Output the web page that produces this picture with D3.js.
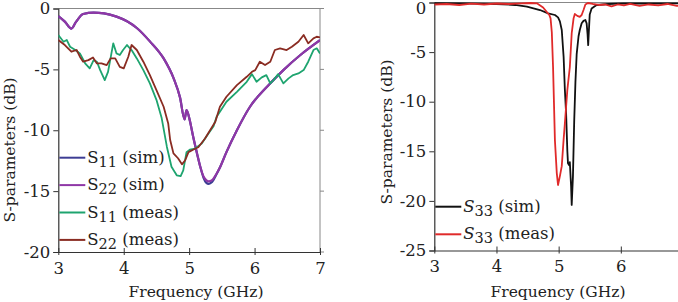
<!DOCTYPE html>
<html>
<head>
<meta charset="utf-8">
<script src="https://cdn.jsdelivr.net/npm/d3@7"></script>
<style>
  body { margin: 0; background: #fff; }
  svg { display: block; font-family: "DejaVu Serif", serif; }
</style>
</head>
<body>
<svg id="chart" width="678" height="302"></svg>
<script>
// ---- left panel data ----
const simFreq = [3.0, 3.1, 3.2, 3.27, 3.38, 3.54, 3.7, 3.89, 4.05, 4.2, 4.4, 4.61, 4.76, 4.86, 4.93, 4.96, 5.01, 5.06, 5.12, 5.17, 5.22, 5.26, 5.3, 5.35, 5.42, 5.47, 5.57, 5.73, 5.93, 6.19, 6.44, 6.7, 7.0];
const s11Sim = [-0.62, -1.08, -1.65, -1.1, -0.45, -0.34, -0.4, -0.67, -1.05, -1.6, -2.7, -4.1, -5.7, -7.3, -9.1, -8.35, -9.2, -10.5, -11.9, -13.0, -13.9, -14.3, -14.4, -14.25, -13.6, -13.06, -11.8, -10.0, -8.07, -6.43, -5.06, -3.82, -2.6];
const s22Sim = [-0.62, -1.08, -1.65, -1.1, -0.45, -0.34, -0.4, -0.67, -1.05, -1.6, -2.7, -4.1, -5.7, -7.3, -9.1, -8.35, -9.2, -10.5, -11.9, -13.0, -13.8, -14.1, -14.2, -14.1, -13.55, -13.06, -11.8, -10.0, -8.07, -6.43, -5.06, -3.82, -2.6];

const s11MeasFreq = [3.0, 3.08, 3.13, 3.18, 3.26, 3.33, 3.41, 3.48, 3.54, 3.59, 3.64, 3.71, 3.76, 3.84, 3.89, 3.94, 3.99, 4.05, 4.12, 4.2, 4.3, 4.4, 4.5, 4.58, 4.66, 4.73, 4.81, 4.87, 4.91, 4.96, 5.01, 5.09, 5.19, 5.29, 5.37, 5.42, 5.57, 5.73, 5.88, 5.96, 6.03, 6.11, 6.18, 6.24, 6.29, 6.36, 6.44, 6.52, 6.59, 6.67, 6.75, 6.82, 6.9, 6.95, 7.0];
const s11Meas = [-2.18, -2.73, -2.59, -3.14, -3.41, -3.69, -4.5, -4.92, -4.24, -4.37, -5.06, -5.88, -5.2, -2.86, -3.69, -3.82, -3.41, -3.0, -3.41, -4.1, -5.06, -6.15, -7.5, -9.0, -11.37, -13.0, -13.7, -13.77, -13.3, -11.8, -11.6, -11.5, -11.1, -10.3, -9.7, -8.9, -7.66, -6.84, -6.02, -5.39, -6.02, -5.66, -5.47, -6.15, -5.88, -5.39, -6.15, -5.74, -5.47, -5.33, -5.06, -4.37, -3.41, -3.27, -3.69];

const s22MeasFreq = [3.0, 3.1, 3.2, 3.28, 3.33, 3.38, 3.46, 3.53, 3.59, 3.66, 3.74, 3.8, 3.87, 3.94, 4.0, 4.07, 4.12, 4.2, 4.3, 4.4, 4.5, 4.61, 4.68, 4.71, 4.76, 4.83, 4.89, 4.94, 4.99, 5.06, 5.14, 5.24, 5.32, 5.4, 5.47, 5.57, 5.73, 5.88, 5.96, 6.01, 6.08, 6.16, 6.24, 6.31, 6.39, 6.49, 6.57, 6.67, 6.75, 6.82, 6.9, 6.95, 7.0];
const s22Meas = [-2.59, -3.0, -3.55, -3.41, -3.96, -4.37, -4.24, -4.02, -4.51, -4.51, -4.65, -4.1, -4.1, -4.79, -4.92, -3.96, -3.0, -3.41, -4.37, -5.47, -6.7, -8.07, -9.44, -10.8, -11.9, -12.3, -12.8, -12.46, -11.8, -11.6, -11.4, -10.7, -10.0, -9.3, -8.07, -7.25, -6.29, -5.61, -5.2, -5.06, -4.37, -4.65, -4.37, -3.41, -3.27, -3.41, -3.14, -2.73, -2.18, -2.86, -2.45, -2.32, -2.37];

// ---- right panel data ----
const s33SimFreq = [3.0, 3.5, 4.0, 4.3, 4.49, 4.7, 4.83, 4.94, 4.99, 5.02, 5.05, 5.08, 5.1, 5.12, 5.14, 5.15, 5.17, 5.18, 5.2, 5.21, 5.23, 5.25, 5.27, 5.29, 5.32, 5.34, 5.37, 5.4, 5.43, 5.45, 5.465, 5.475, 5.485, 5.5, 5.53, 5.61, 5.8, 6.04, 6.5, 7.0];
const s33Sim = [-0.06, -0.08, -0.15, -0.25, -0.42, -0.76, -1.09, -1.26, -1.5, -1.9, -2.77, -5.5, -8.8, -11.2, -15.0, -16.2, -16.4, -16.1, -18.5, -20.4, -17.5, -12.0, -8.0, -5.2, -3.4, -2.77, -2.1, -1.85, -1.76, -2.1, -3.2, -4.3, -3.0, -1.2, -0.6, -0.25, -0.15, -0.08, -0.1, -0.08];

const s33MeasFreq = [3.0, 3.2, 3.4, 3.6, 3.8, 4.0, 4.2, 4.4, 4.55, 4.65, 4.75, 4.85, 4.87, 4.89, 4.91, 4.94, 4.97, 4.99, 5.02, 5.05, 5.08, 5.1, 5.14, 5.18, 5.21, 5.24, 5.26, 5.3, 5.34, 5.37, 5.4, 5.43, 5.47, 5.55, 5.65, 5.75, 5.85, 5.95, 6.05, 6.15, 6.3, 6.45, 6.6, 6.75, 6.9, 7.0];
const s33Meas = [-0.2, -0.15, -0.25, -0.12, -0.2, -0.1, -0.15, -0.08, -0.05, -0.08, -0.5, -1.26, -1.6, -3.0, -6.5, -13.9, -17.2, -18.4, -17.5, -16.5, -13.8, -12.2, -8.8, -6.5, -3.1, -1.6, -1.16, -1.35, -1.45, -1.26, -0.76, -0.2, -0.05, -0.15, -0.25, -0.2, -0.4, -0.2, -0.3, -0.15, -0.35, -0.2, -0.3, -0.15, -0.35, -0.3];

const leftXTicks = [3, 4, 5, 6, 7];
const rightXTicks = [3, 4, 5, 6];
const leftYTicks = [0, -5, -10, -15, -20];
const rightYTicks = [0, -5, -10, -15, -20, -25];

const svg = d3.select("#chart");

function panel(opts) {
    const x = d3.scaleLinear().domain([3, 7]).range([opts.x0, opts.x1]);
    const y = d3.scaleLinear().domain(opts.yDomain).range([opts.y0, opts.y1]);
    const g = svg.append("g");

    // frame (top & right in grey)
    g.append("line").attr("x1", opts.x0).attr("x2", opts.x1).attr("y1", opts.y0).attr("y2", opts.y0)
        .attr("stroke", "#888").attr("stroke-width", 1);
    g.append("line").attr("x1", opts.x1).attr("x2", opts.x1).attr("y1", opts.y0).attr("y2", opts.y1)
        .attr("stroke", "#888").attr("stroke-width", 1);
    g.selectAll(".rt").data(opts.yTicks).enter().append("line")
        .attr("x1", opts.x1).attr("x2", opts.x1 + 4)
        .attr("y1", d => y(d)).attr("y2", d => y(d)).attr("stroke", "#888");

    const xAxis = g.append("g").attr("transform", `translate(0,${opts.y1})`)
        .call(d3.axisBottom(x).tickValues(opts.xTicks).tickSize(0).tickPadding(10).tickFormat(d3.format("d")));
    xAxis.select(".domain").attr("stroke", "#333").attr("stroke-width", 1.2);
    xAxis.selectAll(".tick").append("line").attr("y1", -4).attr("y2", 3).attr("stroke", "#333");
    xAxis.selectAll("text").attr("font-size", 16.5).attr("fill", "#222").attr("font-family", "DejaVu Serif");

    const yAxis = g.append("g").attr("transform", `translate(${opts.x0},0)`)
        .call(d3.axisLeft(y).tickValues(opts.yTicks).tickSize(5).tickPadding(3).tickFormat(d => d === 0 ? "0" : "-" + Math.abs(d)));
    yAxis.select(".domain").attr("stroke", "#333").attr("stroke-width", 1.2);
    yAxis.selectAll(".tick line").attr("stroke", "#333");
    yAxis.selectAll("text").attr("font-size", 16.5).attr("fill", "#222").attr("font-family", "DejaVu Serif");
    // keep the top "0" inside the picture
    yAxis.selectAll(".tick text").filter(d => d === 0 && opts.y0 < 6).attr("dy", null).attr("y", 11);

    svg.append("text").attr("x", opts.xLabelX).attr("y", 297).attr("text-anchor", "middle")
        .attr("font-size", 15.5).attr("fill", "#222").text("Frequency (GHz)");
    svg.append("text").attr("transform", `translate(${opts.yLabelX},${opts.yLabelY}) rotate(-90)`)
        .attr("text-anchor", "middle").attr("font-size", 15.5).attr("fill", "#222").text("S-parameters (dB)");

    const clipId = "clip" + Math.round(opts.x0);
    svg.append("clipPath").attr("id", clipId).append("rect")
        .attr("x", opts.x0).attr("y", opts.y0 - 2).attr("width", opts.x1 - opts.x0).attr("height", opts.y1 - opts.y0 + 2);

    opts.series.forEach(s => {
        const pts = s.f.map((f, i) => [f, s.v[i]]);
        const line = d3.line().x(d => x(d[0])).y(d => y(d[1]))
            .curve(s.smooth ? d3.curveMonotoneX : d3.curveLinear);
        svg.append("path").datum(pts).attr("d", line).attr("fill", "none")
            .attr("stroke", s.color).attr("stroke-width", s.width).attr("stroke-linejoin", "round")
            .attr("clip-path", `url(#${clipId})`);
    });

    // legend
    opts.legend.forEach((s, i) => {
        const ly = opts.legendY + i * opts.legendStep;
        svg.append("line").attr("x1", opts.x0 + 1).attr("x2", opts.x0 + 27).attr("y1", ly).attr("y2", ly)
            .attr("stroke", s.color).attr("stroke-width", 2);
        const t = svg.append("text").attr("x", opts.x0 + 29).attr("y", ly + 5)
            .attr("font-size", 16.5).attr("fill", "#222");
        t.append("tspan").attr("font-style", opts.italicS ? "italic" : "normal").text("S");
        t.append("tspan").attr("dy", 4).attr("font-size", 14.5).text(s.sub);
        t.append("tspan").attr("dy", -4).text(" " + s.note);
    });
}

const colS11Sim = "#3e3d94", colS22Sim = "#8f37a6", colS11Meas = "#1ea46f", colS22Meas = "#8a2c22";

panel({
    x0: 58.3, x1: 320, y0: 8.5, y1: 252, yDomain: [0, -20], yTicks: leftYTicks, xTicks: leftXTicks,
    xLabelX: 196, yLabelX: 15, yLabelY: 150,
    series: [
        {f: simFreq, v: s11Sim, color: colS11Sim, width: 2.2, smooth: true},
        {f: simFreq, v: s22Sim, color: colS22Sim, width: 2.2, smooth: true},
        {f: s11MeasFreq, v: s11Meas, color: colS11Meas, width: 1.8},
        {f: s22MeasFreq, v: s22Meas, color: colS22Meas, width: 1.8}
    ],
    legend: [
        {color: colS11Sim, sub: "11", note: "(sim)"},
        {color: colS22Sim, sub: "22", note: "(sim)"},
        {color: colS11Meas, sub: "11", note: "(meas)"},
        {color: colS22Meas, sub: "22", note: "(meas)"}
    ],
    legendY: 157.7, legendStep: 27.4, italicS: false
});

panel({
    x0: 434.3, x1: 683, y0: 2.5, y1: 250.5, yDomain: [0, -25], yTicks: rightYTicks, xTicks: rightXTicks,
    xLabelX: 558, yLabelX: 392, yLabelY: 132,
    series: [
        {f: s33SimFreq, v: s33Sim, color: "#111111", width: 1.8},
        {f: s33MeasFreq, v: s33Meas, color: "#e02a2a", width: 1.8}
    ],
    legend: [
        {color: "#111111", sub: "33", note: "(sim)"},
        {color: "#e02a2a", sub: "33", note: "(meas)"}
    ],
    legendY: 206.7, legendStep: 27.6, italicS: true
});
</script>
</body>
</html>
